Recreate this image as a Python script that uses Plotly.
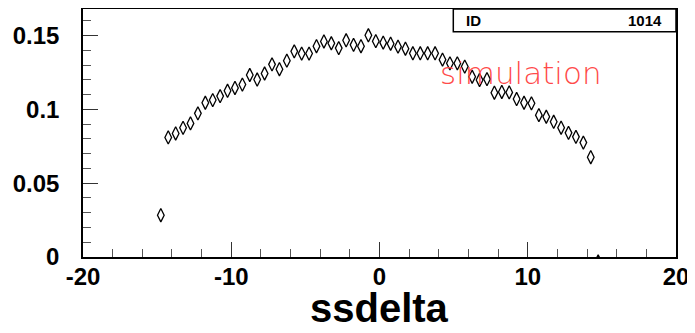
import plotly.graph_objects as go

# bin centres (ssdelta) and content
ssdelta = [-14.75, -14.25, -13.75, -13.25, -12.75, -12.25, -11.75, -11.25, -10.75, -10.25,
           -9.75, -9.25, -8.75, -8.25, -7.75, -7.25, -6.75, -6.25, -5.75, -5.25,
           -4.75, -4.25, -3.75, -3.25, -2.75, -2.25, -1.75, -1.25, -0.75, -0.25,
           0.25, 0.75, 1.25, 1.75, 2.25, 2.75, 3.25, 3.75, 4.25, 4.75,
           5.25, 5.75, 6.25, 6.75, 7.25, 7.75, 8.25, 8.75, 9.25, 9.75,
           10.25, 10.75, 11.25, 11.75, 12.25, 12.75, 13.25, 13.75, 14.25, 14.75]
content = [0.0283, 0.0810, 0.0837, 0.0875, 0.0905, 0.0973, 0.1045, 0.1063, 0.1090, 0.1126,
           0.1145, 0.1168, 0.1233, 0.1202, 0.1243, 0.1305, 0.1272, 0.1330, 0.1393, 0.1378,
           0.1378, 0.1428, 0.1460, 0.1448, 0.1415, 0.1468, 0.1437, 0.1428, 0.1502, 0.1462,
           0.1452, 0.1445, 0.1425, 0.1411, 0.1380, 0.1380, 0.1380, 0.1380, 0.1337, 0.1312,
           0.1312, 0.1290, 0.1221, 0.1199, 0.1205, 0.1113, 0.1118, 0.1115, 0.1070, 0.1045,
           0.1041, 0.0961, 0.0950, 0.0916, 0.0876, 0.0841, 0.0814, 0.0775, 0.0676, -0.003]

x_range = [-20, 20]
y_range = [0, 0.168]
x_tickvals = [-20, -10, 0, 10, 20]
x_ticktext = ["-20", "-10", "0", "10", "20"]
y_tickvals = [0, 0.05, 0.1, 0.15]
y_ticktext = ["0", "0.05", "0.1", "0.15"]
x_title = "ssdelta"
stat_label = "ID"
stat_value = "1014"
note_text = "simulation"

fig = go.Figure()
fig.add_trace(go.Scatter(
    x=ssdelta, y=content, mode="markers",
    marker=dict(symbol="diamond-tall-open", size=9.5, color="black",
                line=dict(color="black", width=1.3)),
    cliponaxis=True, showlegend=False,
))

# page body has an 8px margin, so the figure is laid out 8px up/left
tickfont = dict(family="Liberation Sans", size=24, color="black", weight="bold")
fig.update_layout(
    width=687, height=325,
    margin=dict(l=75, r=19, t=1, b=76, autoexpand=False),
    paper_bgcolor="white", plot_bgcolor="white",
    xaxis=dict(range=x_range, tickmode="array", tickvals=x_tickvals, ticktext=x_ticktext,
               ticks="inside", ticklen=15, automargin=False, ticklabeloverflow="allow",
               tickcolor="#333", tickwidth=1, showgrid=False, zeroline=False,
               showline=True, mirror=True, linecolor="black", linewidth=1.5,
               tickfont=tickfont, ticklabelstandoff=-3,
               minor=dict(dtick=2, tick0=0, ticks="inside", ticklen=8, tickcolor="#555",
                          tickwidth=1, showgrid=False)),
    yaxis=dict(range=y_range, tickmode="array", tickvals=y_tickvals, ticktext=y_ticktext,
               ticks="inside", ticklen=15, automargin=False, ticklabeloverflow="allow",
               tickcolor="#333", tickwidth=1, showgrid=False, zeroline=False,
               showline=True, mirror=True, linecolor="black", linewidth=1.5,
               tickfont=tickfont, ticklabelstandoff=17,
               minor=dict(dtick=0.01, tick0=0, ticks="inside", ticklen=8, tickcolor="#555",
                          tickwidth=1, showgrid=False)),
)

# axis title
fig.add_annotation(text=x_title, xref="paper", yref="paper", x=0.5, y=(257 - 308) / 248,
                   xanchor="center", yanchor="middle", showarrow=False,
                   font=dict(family="Liberation Sans", size=40, color="black", weight="bold"))

# stats box
fig.add_shape(type="rect", xref="paper", yref="paper",
              x0=(453.3 - 83) / 593, x1=1.0, y0=(257 - 31.7) / 248, y1=1.0,
              line=dict(color="black", width=1.5), fillcolor="white", layer="above")
fig.add_annotation(text=stat_label, xref="paper", yref="paper", x=(464 - 83) / 593,
                   y=(257 - 20.5) / 248, xanchor="left", yanchor="middle", showarrow=False,
                   font=dict(family="Liberation Sans", size=15, color="black", weight="bold"))
fig.add_annotation(text=stat_value, xref="paper", yref="paper", x=(664 - 83) / 593,
                   y=(257 - 20.5) / 248, xanchor="right", yanchor="middle", showarrow=False,
                   font=dict(family="Liberation Sans", size=15, color="black", weight="bold"))

# red note
fig.add_annotation(text=note_text, xref="paper", yref="paper", x=(438 - 83) / 593,
                   y=(257 - 73) / 248, xanchor="left", yanchor="middle", showarrow=False,
                   font=dict(family="DejaVu Sans", size=31, color="#ff4a4a", weight=200))

fig.write_html("out.html")
